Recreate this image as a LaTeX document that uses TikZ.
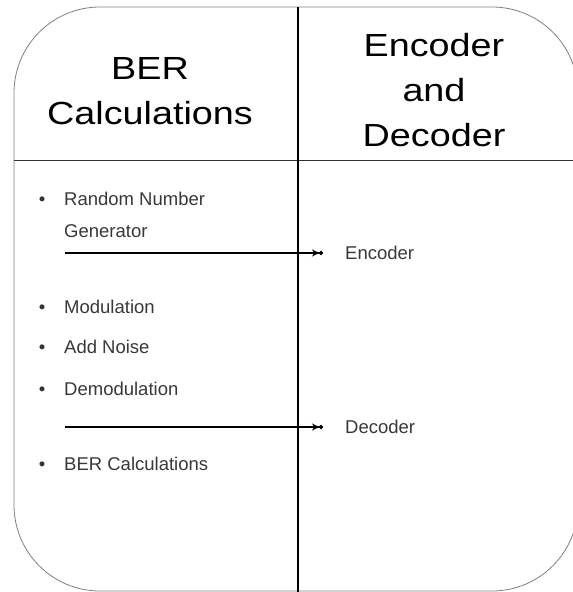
\documentclass[tikz,border=0pt]{standalone}
\usepackage{fontspec}
\setmainfont{Liberation Sans}
\newfontfamily\titlefont[FakeStretch=1.18]{Liberation Sans}
\usetikzlibrary{arrows.meta}
\begin{document}
\begin{tikzpicture}[x=1pt,y=-1pt,
  title/.style={font=\titlefont\fontsize{32}{45}\selectfont, align=center, inner sep=0pt, text=black},
  item/.style={font=\fontsize{18.5}{32}\selectfont, text=black!78, inner sep=0pt, anchor=base west, align=left},
  bul/.style={font=\fontsize{18.5}{22}\selectfont, text=black!80, inner sep=0pt, anchor=base},
  flow/.style={line width=2.4pt, -{Stealth[length=7pt,width=7pt] Circle[length=4pt]}},
  outline/.style={draw=black!50, line width=0.8pt, rounded corners=86pt},
  hdiv/.style={draw=black!80, line width=0.9pt},
  vdiv/.style={draw=black, line width=1.2pt}
]
\useasboundingbox (0,0) rectangle (573,592);
\path[outline] (14,7) rectangle (578,591);
\path[hdiv] (14,160) -- (578,160);
\path[vdiv] (298,7) -- (298,592);

\node[title] (t1) at (150,91) {BER\\Calculations};
\node[title] (t2) at (434,90) {Encoder\\and\\Decoder};

\node[bul] (b1) at (42,205) {•};
\node[item] (i1) at (64,237) {Random Number\\Generator};
\node[bul] (b2) at (42,313) {•};
\node[item] (i2) at (64,313) {Modulation};
\node[bul] (b3) at (42,353) {•};
\node[item] (i3) at (64,353) {Add Noise};
\node[bul] (b4) at (42,395) {•};
\node[item] (i4) at (64,395) {Demodulation};
\node[bul] (b5) at (42,470) {•};
\node[item] (i5) at (64,470) {BER Calculations};

\coordinate (s1) at (65,253);
\node[item, anchor=west] (enc) at (345,253) {Encoder};
\draw[flow, shorten >=22pt] (s1) -- (enc.west);

\coordinate (s2) at (65,427);
\node[item, anchor=west] (dec) at (345,427) {Decoder};
\draw[flow, shorten >=22pt] (s2) -- (dec.west);
\end{tikzpicture}
\end{document}
